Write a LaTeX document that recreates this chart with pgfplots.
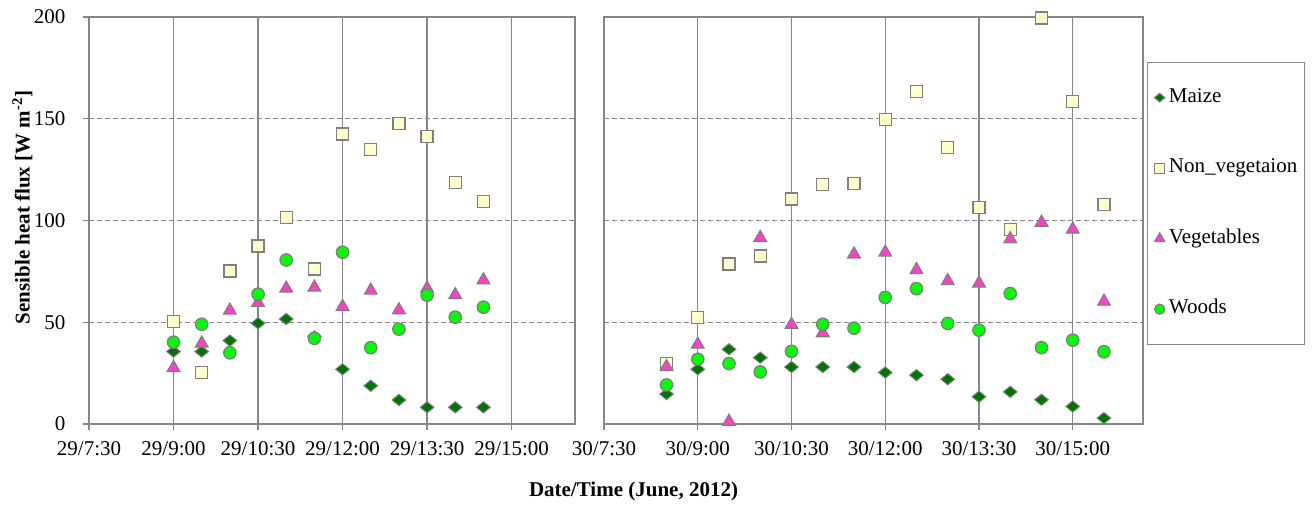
\documentclass[border=0pt]{standalone}
\usepackage{fontspec}
\setmainfont{Liberation Serif}
\usepackage{pgfplots}
\usepackage{pgfplotstable}
\pgfplotsset{compat=1.18}
\definecolor{maize}{HTML}{007400}
\definecolor{nonveg}{HTML}{FFFFCC}
\definecolor{veg}{HTML}{FF3FC8}
\definecolor{woods}{HTML}{00FF00}
\definecolor{edge}{HTML}{7F7F7F}
\definecolor{gridc}{HTML}{868686}

\pgfplotstableread{
t    maize  nonveg  veg   woods
9.0  35.6   50.3    27.6  40.2
9.5  35.6   25.2    39.6  49.0
10.0 41.0   75.2    55.8  35.0
10.5 49.5   87.5    59.6  63.8
11.0 51.6   101.5   66.6  80.6
11.5 43.0   76.1    67.1  42.1
12.0 26.9   142.5   57.6  84.4
12.5 18.8   134.9   65.6  37.5
13.0 11.8   147.5   56.0  46.6
13.5 8.2    141.3   66.6  63.3
14.0 8.2    118.5   63.4  52.5
14.5 8.2    109.2   70.7  57.4
}\dayA

\pgfplotstableread{
t    maize  nonveg  veg   woods
8.5  14.7   29.7    28.1  19.2
9.0  26.9   52.2    39.1  31.8
9.5  36.7   78.6    1.2   29.7
10.0 32.6   82.6    91.5  25.6
10.5 28.0   110.5   48.8  35.7
11.0 28.0   117.7   44.7  49.0
11.5 28.0   118.2   83.4  47.1
12.0 25.3   149.6   84.3  62.2
12.5 24.0   163.3   75.7  66.5
13.0 22.0   135.9   70.3  49.4
13.5 13.4   106.5   69.1  46.1
14.0 15.8   95.7    90.9  64.1
14.5 11.9   199.5   99.0  37.5
15.0 8.6    158.4   95.6  41.2
15.5 2.9    108.0   60.2  35.5
}\dayB

\pgfplotsset{
  myaxis/.style={
    scale only axis, height=407bp,
    xmin=7.5, xmax=16.125, ymin=0, ymax=200,
    xtick={7.5,9,10.5,12,13.5,15},
    ytick={0,50,100,150,200},
    tick align=outside,
    xtick pos=left, ytick pos=left,
    major tick length=6bp,
    axis line style={draw=gridc, line width=1.3bp},
    every tick/.style={draw=gridc, line width=1.3bp},
    xmajorgrids, ymajorgrids,
    x grid style={draw=gridc, line width=1.3bp},
    y grid style={draw=gridc, line width=1.1bp, dash pattern=on 5bp off 3bp},
    tick label style={font=\fontsize{21bp}{25bp}\selectfont},
    xticklabel style={yshift=-8bp},
    yticklabel style={xshift=-14bp},
    /pgf/number format/assume math mode=true,
    clip=false,
  },
  mz/.style={only marks, mark=square*, mark size=4.4bp,
    mark options={xscale=1.1, yscale=0.9, rotate=45, fill=maize, draw=edge, line width=1bp},
    legend image code/.code={\draw[##1, mark size=3.4bp] plot coordinates {(0bp,0bp)};}},
  nv/.style={only marks, mark=square*, mark size=6bp,
    mark options={fill=nonveg, draw=edge, line width=1.3bp},
    legend image code/.code={\draw[##1, mark size=5bp] plot coordinates {(0bp,0bp)};}},
  vg/.style={only marks, mark=triangle*, mark size=7.3bp,
    mark options={fill=veg, draw=edge, line width=1.2bp},
    legend image code/.code={\draw[##1, mark size=5.8bp] plot coordinates {(0bp,0bp)};}},
  wd/.style={only marks, mark=*, mark size=6.2bp,
    mark options={fill=woods, draw=edge, line width=1.3bp},
    legend image code/.code={\draw[##1, mark size=5bp] plot coordinates {(0bp,0bp)};}},
}

\begin{document}
\begin{tikzpicture}[x=1bp,y=1bp]
\useasboundingbox (0,0) rectangle (1314,508);

\begin{axis}[myaxis, width=486bp, at={(89bp,84bp)}, anchor=south west,
  xticklabels={29/7:30,29/9:00,29/10:30,29/12:00,29/13:30,29/15:00},
  ylabel={\bfseries Sensible heat flux [W m\textsuperscript{-2}]},
  ylabel style={font=\fontsize{21bp}{25bp}\selectfont, at={(axis description cs:-0.137,0.532)}, anchor=center, rotate=0},
]
\addplot[mz] table[x=t,y=maize]{\dayA};
\addplot[nv] table[x=t,y=nonveg]{\dayA};
\addplot[vg] table[x=t,y=veg]{\dayA};
\addplot[wd] table[x=t,y=woods]{\dayA};
\end{axis}

\begin{axis}[myaxis, width=539bp, at={(604bp,84bp)}, anchor=south west,
  xticklabels={30/7:30,30/9:00,30/10:30,30/12:00,30/13:30,30/15:00},
  yticklabels={}, ytick style={draw=none},
  legend style={at={(rel axis cs:1.0069,0.890)}, anchor=north west,
    draw=gridc, line width=1.3bp, inner xsep=7bp, inner ysep=26bp,
    row sep=52bp, column sep=4bp,
    font=\fontsize{21bp}{25bp}\selectfont,
    nodes={inner sep=0bp, text height=14bp, text depth=4.5bp}},
  legend cell align=left,
]
\addplot[mz] table[x=t,y=maize]{\dayB};
\addplot[nv] table[x=t,y=nonveg]{\dayB};
\addplot[vg] table[x=t,y=veg]{\dayB};
\addplot[wd] table[x=t,y=woods]{\dayB};
\legend{Maize, Non\_vegetaion, Vegetables, Woods}
\end{axis}

\node[font=\fontsize{21bp}{25bp}\selectfont\bfseries] at (633.5,17) {Date/Time (June, 2012)};
\end{tikzpicture}
\end{document}
